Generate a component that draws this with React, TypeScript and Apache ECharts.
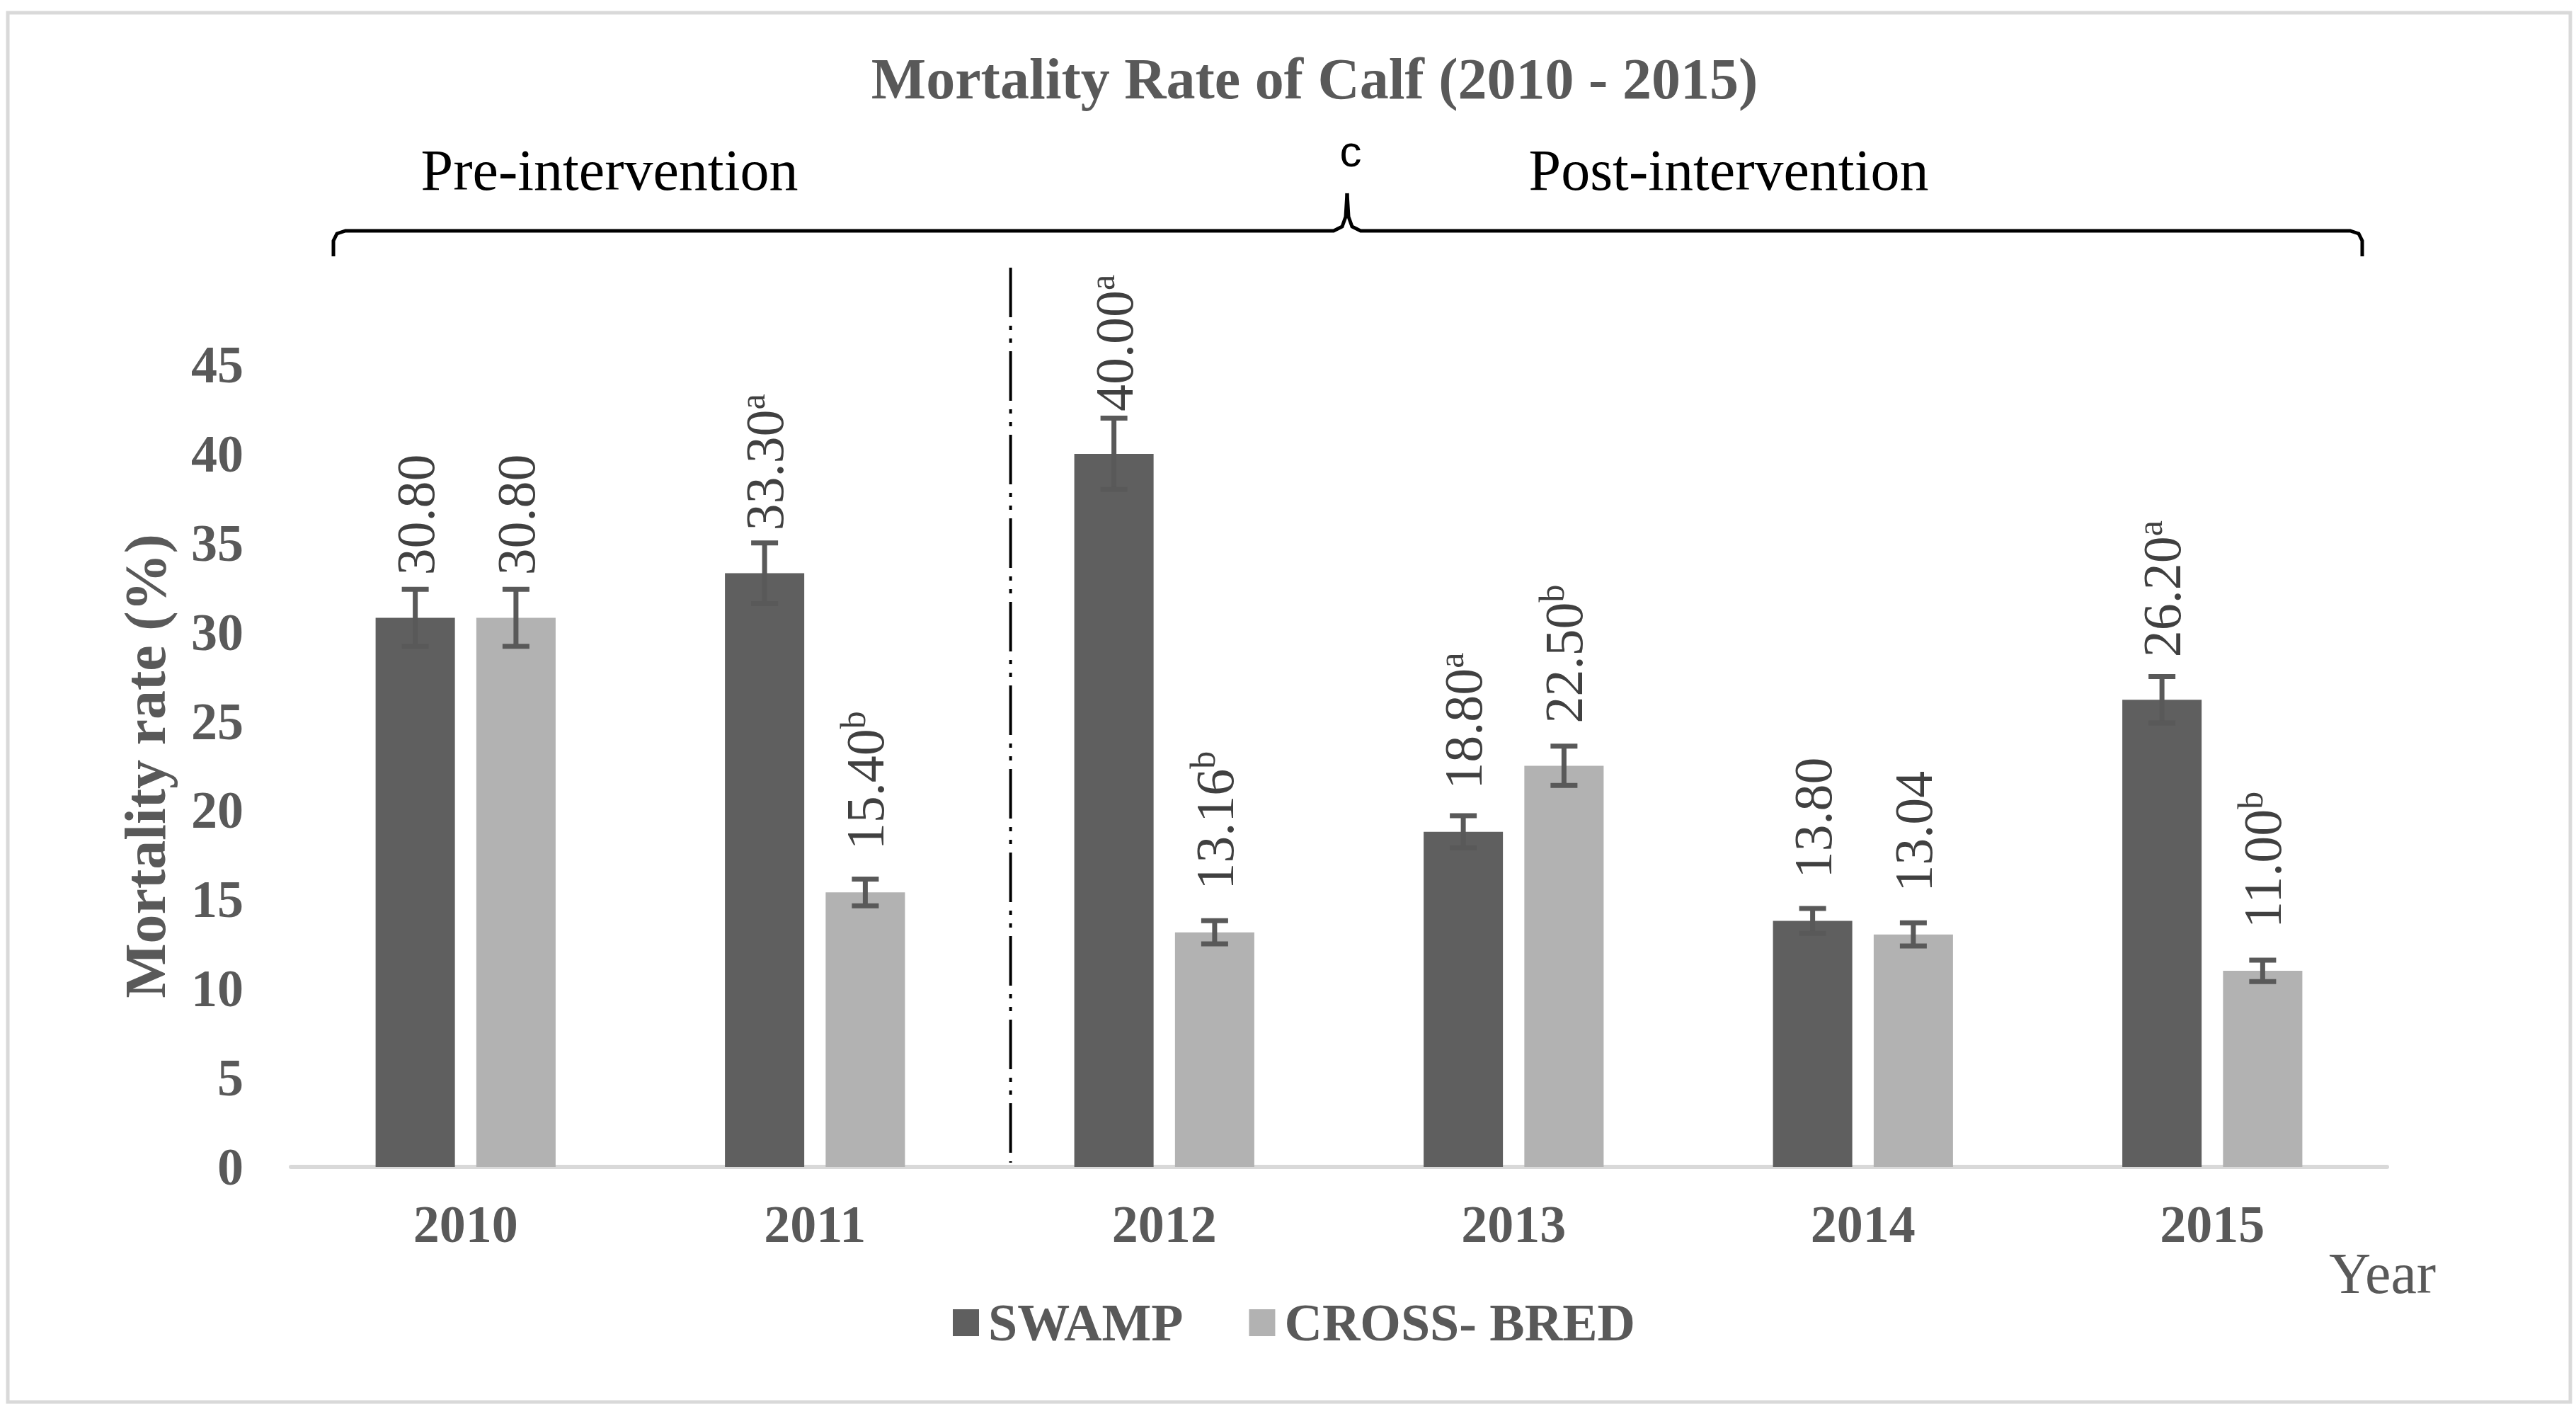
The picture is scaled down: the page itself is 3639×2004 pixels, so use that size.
import React, { useEffect, useRef } from "react";
import * as echarts from "echarts";

const categories = ["2010", "2011", "2012", "2013", "2014", "2015"];
const seriesNames = ["SWAMP", "CROSS- BRED"];
const swampValues = [30.8, 33.3, 40.0, 18.8, 13.8, 26.2];
const crossValues = [30.8, 15.4, 13.16, 22.5, 13.04, 11.0];
const swampErrors = [1.6, 1.7, 2.0, 0.9, 0.7, 1.3];
const crossErrors = [1.6, 0.75, 0.65, 1.1, 0.65, 0.6];
const swampSup = ["", "a", "a", "a", "", "a"];
const crossSup = ["", "b", "b", "b", "", "b"];
const yTickValues = { min: 0, max: 45, interval: 5 };

const SERIF = '"Liberation Serif", "Times New Roman", serif';
const GRAY = "#595959";
const LABEL = "#404040";
const DARK = "#5f5f5f";
const LIGHT = "#b2b2b2";
const BAR_W = 0.227;
const BAR_GAP = 0.27;
const OFFSET = (BAR_W * (1 + BAR_GAP)) / 2;

function makeLabel(sups: string[]) {
  return {
    show: true,
    position: "top",
    distance: 60,
    rotate: 90,
    align: "left",
    verticalAlign: "middle",
    formatter: (p: any) => {
      const s = sups[p.dataIndex];
      return `{v|${Number(p.value).toFixed(2)}}` + (s ? `{s|${s}}` : "");
    },
    rich: {
      v: { fontFamily: SERIF, fontSize: 76, color: LABEL, lineHeight: 84 },
      s: { fontFamily: SERIF, fontSize: 50, color: LABEL, verticalAlign: "top", lineHeight: 84 },
    },
  };
}

function errSeries(values: number[], errors: number[], sign: number) {
  return {
    type: "custom",
    silent: true,
    z: 5,
    encode: { x: 0, y: 1 },
    data: values.map((v, i) => [i, v, errors[i]]),
    renderItem: (params: any, api: any) => {
      const xi = api.value(0);
      const v = api.value(1);
      const e = api.value(2);
      const c = api.coord([xi, v]);
      const bw = api.size([1, 0])[0];
      const cx = c[0] + sign * bw * OFFSET;
      const top = api.coord([xi, v + e])[1];
      const bot = api.coord([xi, v - e])[1];
      const half = 19;
      const st = { stroke: GRAY, lineWidth: 7 };
      return {
        type: "group",
        children: [
          { type: "line", shape: { x1: cx, y1: top, x2: cx, y2: bot }, style: st },
          { type: "line", shape: { x1: cx - half, y1: top, x2: cx + half, y2: top }, style: st },
          { type: "line", shape: { x1: cx - half, y1: bot, x2: cx + half, y2: bot }, style: st },
        ],
      };
    },
  };
}

export default function App() {
  const ref = useRef<HTMLDivElement>(null);
  useEffect(() => {
    if (!ref.current) return;
    const chart = echarts.init(ref.current, undefined, { renderer: "svg" });
    const option: any = {
      animation: false,
      backgroundColor: "#ffffff",
      grid: { left: 411, right: 267, top: 515, bottom: 356 },
      legend: {
        left: 1341,
        top: 1826,
        icon: "rect",
        itemWidth: 37,
        itemHeight: 38,
        itemGap: 93,
        data: seriesNames,
        textStyle: { fontFamily: SERIF, fontSize: 74, fontWeight: "bold", color: GRAY, padding: [0, 0, 0, 8] },
      },
      xAxis: {
        type: "category",
        data: categories,
        axisTick: { show: false },
        axisLine: { lineStyle: { color: "#d9d9d9", width: 6 } },
        axisLabel: { fontFamily: SERIF, fontSize: 74, fontWeight: "bold", color: GRAY, margin: 44 },
      },
      yAxis: {
        type: "value",
        min: yTickValues.min,
        max: yTickValues.max,
        interval: yTickValues.interval,
        splitLine: { show: false },
        axisLine: { show: false },
        axisTick: { show: false },
        axisLabel: { fontFamily: SERIF, fontSize: 74, fontWeight: "bold", color: GRAY, margin: 67 },
      },
      series: [
        {
          name: seriesNames[0],
          type: "bar",
          data: swampValues,
          barWidth: BAR_W * 100 + "%",
          barGap: BAR_GAP * 100 + "%",
          itemStyle: { color: DARK },
          label: makeLabel(swampSup),
        },
        {
          name: seriesNames[1],
          type: "bar",
          data: crossValues,
          barWidth: BAR_W * 100 + "%",
          barGap: BAR_GAP * 100 + "%",
          itemStyle: { color: LIGHT },
          label: makeLabel(crossSup),
        },
        errSeries(swampValues, swampErrors, -1),
        errSeries(crossValues, crossErrors, 1),
      ],
      graphic: {
        elements: [
          {
            id: "border",
            type: "rect",
            shape: { x: 11, y: 18, width: 3620, height: 1962 },
            style: { fill: "none", stroke: "#d9d9d9", lineWidth: 5 },
            silent: true,
          },
          {
            id: "title",
            type: "text",
            x: 1857,
            y: 111,
            style: {
              text: "Mortality Rate of Calf (2010 - 2015)",
              font: `bold 82px ${SERIF}`,
              fill: GRAY,
              align: "center",
              verticalAlign: "middle",
            },
          },
          {
            id: "pre",
            type: "text",
            x: 861,
            y: 240,
            style: { text: "Pre-intervention", font: `82px ${SERIF}`, fill: "#000", align: "center", verticalAlign: "middle" },
          },
          {
            id: "post",
            type: "text",
            x: 2442,
            y: 240,
            style: { text: "Post-intervention", font: `82px ${SERIF}`, fill: "#000", align: "center", verticalAlign: "middle" },
          },
          {
            id: "c",
            type: "text",
            x: 1908,
            y: 213,
            style: { text: "c", font: `62px "Liberation Sans", Arial, sans-serif`, fill: "#000", align: "center", verticalAlign: "middle" },
          },
          {
            id: "braceL",
            type: "polyline",
            shape: {
              points: [
                [471, 362], [471, 340], [476, 330], [488, 326], [1884, 326], [1896, 320], [1901, 306], [1903, 273],
              ],
            },
            style: { stroke: "#000", lineWidth: 5, fill: "none" },
          },
          {
            id: "braceR",
            type: "polyline",
            shape: {
              points: [
                [1903, 273], [1905, 306], [1910, 320], [1922, 326], [3320, 326], [3332, 330], [3337, 340], [3337, 362],
              ],
            },
            style: { stroke: "#000", lineWidth: 5, fill: "none" },
          },
          {
            id: "yname",
            type: "text",
            x: 205,
            y: 1082,
            rotation: Math.PI / 2,
            style: {
              text: "Mortality rate (%)",
              font: `bold 82px ${SERIF}`,
              fill: GRAY,
              align: "center",
              verticalAlign: "middle",
            },
          },
          {
            id: "year",
            type: "text",
            x: 3290,
            y: 1798,
            style: { text: "Year", font: `82px ${SERIF}`, fill: GRAY, align: "left", verticalAlign: "middle" },
          },
        ],
      },
    };
    chart.setOption(option);
    const p1 = chart.convertToPixel({ xAxisIndex: 0 }, categories[1]) as number;
    const p2 = chart.convertToPixel({ xAxisIndex: 0 }, categories[2]) as number;
    const lx = (p1 + p2) / 2 + 0.06 * (p2 - p1);
    chart.setOption({
      graphic: {
        elements: [
          {
            id: "divider",
            type: "line",
            shape: { x1: lx, y1: 378, x2: lx, y2: 1642 },
            style: { stroke: "#000", lineWidth: 4, lineDash: [70, 12, 6, 12, 6, 12] },
            silent: true,
          },
        ],
      },
    });
    return () => chart.dispose();
  }, []);
  return (
    <div
      ref={ref}
      style={{ position: "fixed", left: 0, top: 0, width: 3639, height: 2004, background: "#fff" }}
    />
  );
}
